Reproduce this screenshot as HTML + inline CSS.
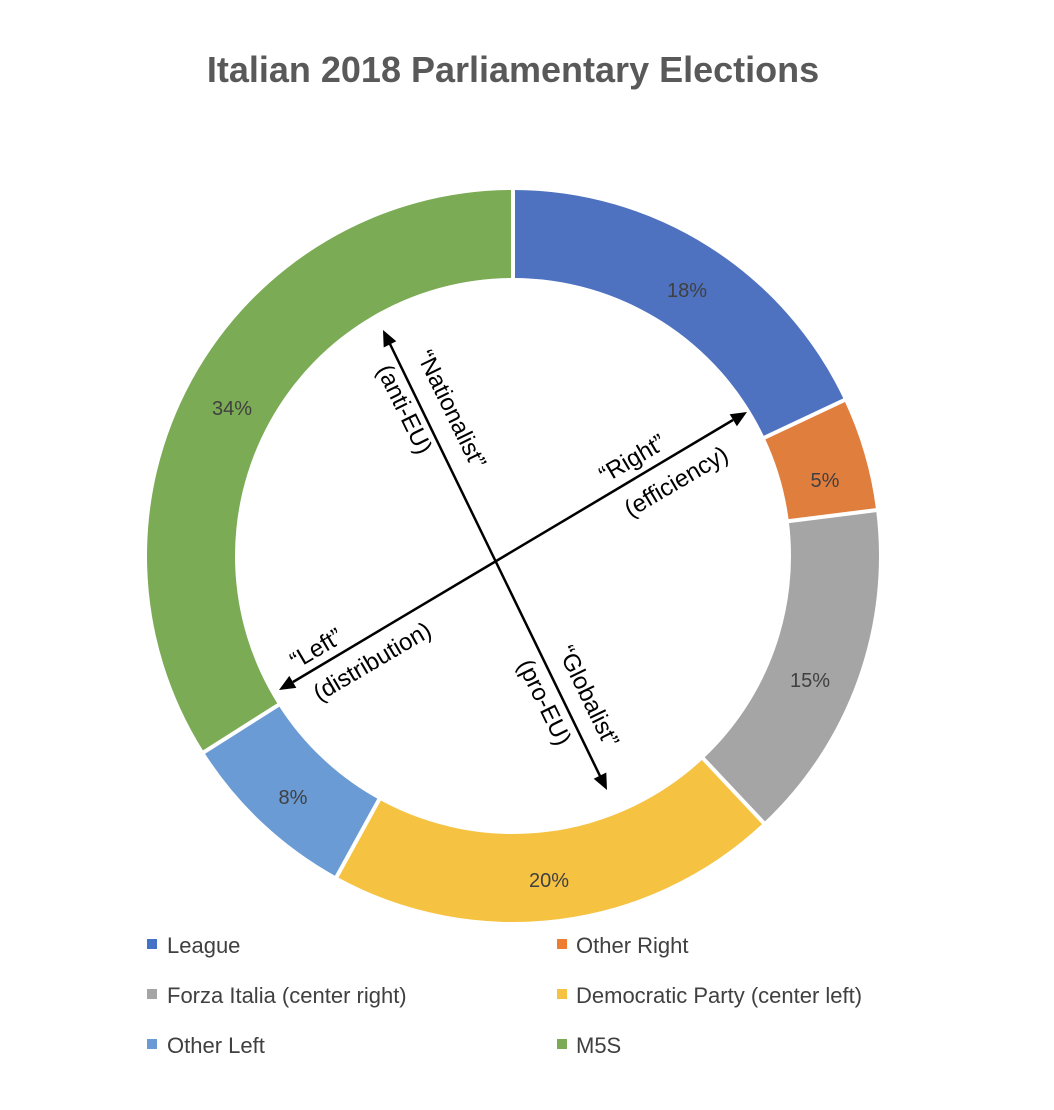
<!DOCTYPE html>
<html><head><meta charset="utf-8"><style>
body{margin:0;background:#fff;}
svg{display:block;font-family:"Liberation Sans",sans-serif;}
</style></head><body>
<svg id="s" width="1054" height="1110" viewBox="0 0 1054 1110">
<text x="513" y="82" text-anchor="middle" font-size="36" font-weight="bold" fill="#595959">Italian 2018 Parliamentary Elections</text>
<g id="ring"></g>
<g font-size="20" fill="#404040" text-anchor="middle">
<text x="687" y="297">18%</text>
<text x="825" y="487">5%</text>
<text x="810" y="687">15%</text>
<text x="549" y="887">20%</text>
<text x="293" y="804">8%</text>
<text x="232" y="415">34%</text>
</g>
<line x1="390" y1="344" x2="600" y2="776" stroke="#000" stroke-width="2.5"/>
<line x1="293" y1="682" x2="733" y2="420" stroke="#000" stroke-width="2.5"/>
<g fill="#000">
<polygon points="383,330 396.3,341.3 383.7,347.5"/>
<polygon points="607,790 606.3,772.5 593.7,778.7"/>
<polygon points="747,412 736.9,426.2 729.7,414.2"/>
<polygon points="279,690 296.3,687.9 289.3,675.9"/>
</g>
<g font-size="24" fill="#000" text-anchor="middle" dominant-baseline="middle">
<text transform="translate(450,410) rotate(64)">“Nationalist”</text>
<text transform="translate(403,410) rotate(64)">(anti-EU)</text>
<text transform="translate(587,697) rotate(64)">“Globalist”</text>
<text transform="translate(543,703) rotate(64)">(pro-EU)</text>
<text transform="translate(633,460) rotate(-30.5)">“Right”</text>
<text transform="translate(677,483) rotate(-30.5)">(efficiency)</text>
<text transform="translate(317,650) rotate(-30.5)">“Left”</text>
<text transform="translate(373,663) rotate(-30.5)">(distribution)</text>
</g>
<g font-size="22" fill="#404040">
<rect x="147" y="939" width="10" height="10" fill="#4472C4"/><text x="167" y="953">League</text>
<rect x="557" y="939" width="10" height="10" fill="#ED7D31"/><text x="576" y="953">Other Right</text>
<rect x="147" y="989" width="10" height="10" fill="#A5A5A5"/><text x="167" y="1003">Forza Italia (center right)</text>
<rect x="557" y="989" width="10" height="10" fill="#F5C242"/><text x="576" y="1003">Democratic Party (center left)</text>
<rect x="147" y="1039" width="10" height="10" fill="#6A9BD4"/><text x="167" y="1053">Other Left</text>
<rect x="557" y="1039" width="10" height="10" fill="#7BAB55"/><text x="576" y="1053">M5S</text>
</g>
</svg>
<script>
(function(){
var cx=513,cy=556,R=366,r=278;
var d=[[18,"#4E72C0"],[5,"#E07E3E"],[15,"#A5A5A5"],[20,"#F5C242"],[8,"#6A9BD4"],[34,"#7BAB55"]];
var g=document.getElementById("ring"),a=0,h="";
function p(ang,rad){var t=ang/100*2*Math.PI;return (cx+rad*Math.sin(t)).toFixed(2)+","+(cy-rad*Math.cos(t)).toFixed(2);}
d.forEach(function(s){var b=a+s[0],l=s[0]>50?1:0;
h+='<path d="M'+p(a,R)+' A'+R+','+R+' 0 '+l+' 1 '+p(b,R)+' L'+p(b,r)+' A'+r+','+r+' 0 '+l+' 0 '+p(a,r)+'Z" fill="'+s[1]+'"/>';a=b;});
a=0;d.forEach(function(s){h+='<line x1="'+p(a,r-2).split(",")[0]+'" y1="'+p(a,r-2).split(",")[1]+'" x2="'+p(a,R+2).split(",")[0]+'" y2="'+p(a,R+2).split(",")[1]+'" stroke="#fff" stroke-width="4"/>';a+=s[0];});
g.innerHTML=h;
})();
</script>
</body></html>
